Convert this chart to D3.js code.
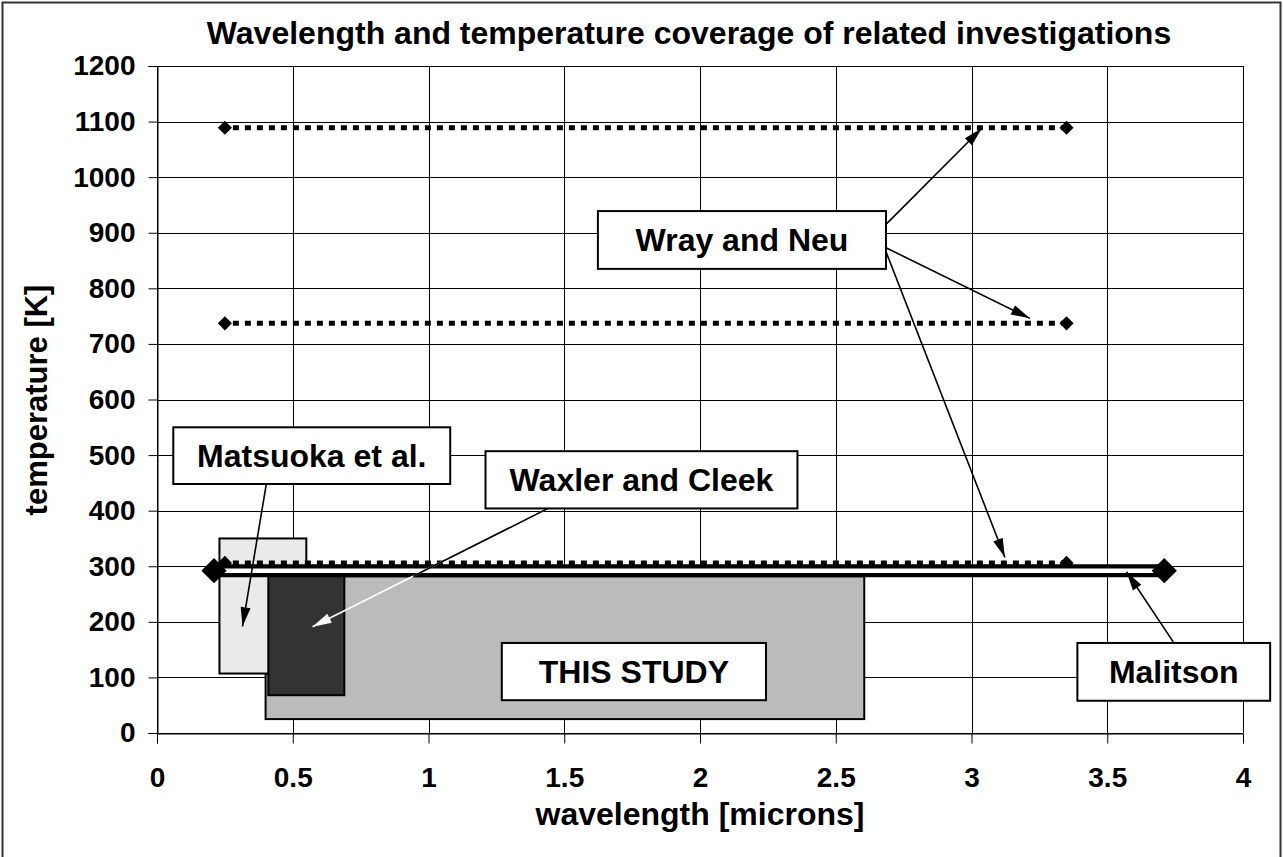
<!DOCTYPE html>
<html>
<head>
<meta charset="utf-8">
<script src="https://cdn.jsdelivr.net/npm/d3@7"></script>
<style>
  body { margin: 0; background: #fff; }
  svg text { font-family: "Liberation Sans", Arial, sans-serif; font-weight: bold; fill: #000; }
</style>
</head>
<body>
<div id="chart"></div>
<script>
// axis ticks
var xTicks = [0, 0.5, 1, 1.5, 2, 2.5, 3, 3.5, 4];
var yTicks = [0, 100, 200, 300, 400, 500, 600, 700, 800, 900, 1000, 1100, 1200];

// Wray and Neu: three temperatures, same wavelength span
var wrayTemps = [1089, 737, 306];
var wrayRange = [0.25, 3.35];

// Malitson: room temperature, wide span
var malitsonTemp = 292;
var malitsonRange = [0.21, 3.71];

// coverage boxes (drawn in this order)
var boxNames = ["THIS STUDY", "Matsuoka et al.", "Waxler and Cleek"];
var boxX0 = [0.40, 0.23, 0.41];
var boxX1 = [2.605, 0.55, 0.69];
var boxT0 = [25, 107, 68];
var boxT1 = [282, 350, 283];
var boxFill = ["#bbbbbb", "#eaeaea", "#333333"];

// callout labels
var labelText = ["Matsuoka et al.", "Waxler and Cleek", "Wray and Neu", "THIS STUDY", "Malitson"];
var labelX0 = [0.06, 1.21, 1.624, 1.27, 3.39];
var labelX1 = [1.08, 2.359, 2.685, 2.243, 4.10];
var labelT0 = [448, 404, 835, 59, 58];
var labelT1 = [550, 507, 939, 162, 162];

// callout arrows
var arrowFromX = [0.404, 2.685, 2.685, 2.685, 3.743];
var arrowFromT = [452, 915, 873, 866, 164];
var arrowToX = [0.315, 3.038, 3.215, 3.123, 3.571];
var arrowToT = [192, 1088, 746, 316, 290];
// the Waxler arrow turns white once it enters the grey box
var waxArrow = {x0: 1.448, t0: 406, x1: 0.573, t1: 191};

var width = 1283, height = 857;

var svg = d3.select("#chart")
    .append("svg")
    .attr("width", width)
    .attr("height", height);

var x = d3.scaleLinear().domain([0, 4]).range([157, 1243]);
var y = d3.scaleLinear().domain([0, 1200]).range([733, 66]);

// arrow heads
var defs = svg.append("defs");
["black", "white"].forEach(function(c) {
    defs.append("marker")
        .attr("id", "head-" + c)
        .attr("markerUnits", "userSpaceOnUse")
        .attr("viewBox", "-20 -6 22 12")
        .attr("refX", 0).attr("refY", 0)
        .attr("markerWidth", 22).attr("markerHeight", 12)
        .attr("orient", "auto")
        .append("path")
        .attr("d", "M0,0 L-19,-5 L-19,5 Z")
        .attr("fill", c);
});

// outer frame
svg.append("rect")
    .attr("x", 2.5).attr("y", 2.5)
    .attr("width", 1278).attr("height", 900)
    .attr("fill", "none")
    .attr("stroke", "#333")
    .attr("stroke-width", 2);

// title
svg.append("text")
    .attr("x", 689).attr("y", 44)
    .attr("text-anchor", "middle")
    .style("font-size", "32px")
    .text("Wavelength and temperature coverage of related investigations");

// grid
var grid = svg.append("g");
grid.selectAll(".vg").data(xTicks).enter().append("line")
    .attr("x1", function(d) { return Math.round(x(d)) + 0.5; })
    .attr("x2", function(d) { return Math.round(x(d)) + 0.5; })
    .attr("y1", y(1200)).attr("y2", y(0))
    .attr("stroke", "#000").attr("stroke-width", 1);
grid.selectAll(".hg").data(yTicks).enter().append("line")
    .attr("x1", x(0)).attr("x2", x(4))
    .attr("y1", function(d) { return Math.round(y(d)) + 0.5; })
    .attr("y2", function(d) { return Math.round(y(d)) + 0.5; })
    .attr("stroke", "#000").attr("stroke-width", 1);

// axes
var xAxis = svg.append("g")
    .attr("transform", "translate(0," + (Math.round(y(0)) + 0.5) + ")")
    .call(d3.axisBottom(x).tickValues(xTicks).tickSize(10).tickPadding(24)
        .tickFormat(function(d) { return String(d); }));
var yAxis = svg.append("g")
    .attr("transform", "translate(" + (Math.round(x(0)) + 0.5) + ",0)")
    .call(d3.axisLeft(y).tickValues(yTicks).tickSize(9).tickPadding(13)
        .tickFormat(function(d) { return String(d); }));
[xAxis, yAxis].forEach(function(a) {
    a.select(".domain").attr("stroke", "#000");
    a.selectAll(".tick line").attr("stroke", "#000");
    a.selectAll(".tick text")
        .style("font-size", "28px")
        .style("font-family", "'Liberation Sans', Arial, sans-serif")
        .style("font-weight", "bold");
});

svg.append("text")
    .attr("x", 700).attr("y", 825)
    .attr("text-anchor", "middle")
    .style("font-size", "32px")
    .text("wavelength [microns]");

svg.append("text")
    .attr("transform", "translate(47,400) rotate(-90)")
    .attr("text-anchor", "middle")
    .style("font-size", "31px")
    .text("temperature [K]");

// coverage boxes
svg.append("g").selectAll("rect")
    .data(boxNames).enter().append("rect")
    .attr("x", function(d, i) { return x(boxX0[i]); })
    .attr("y", function(d, i) { return y(boxT1[i]); })
    .attr("width", function(d, i) { return x(boxX1[i]) - x(boxX0[i]); })
    .attr("height", function(d, i) { return y(boxT0[i]) - y(boxT1[i]); })
    .attr("fill", function(d, i) { return boxFill[i]; })
    .attr("stroke", "#000")
    .attr("stroke-width", 2);

// Wray and Neu dotted lines
var diamond = function(size) { return d3.symbol().type(d3.symbolSquare).size(size)(); };
var wray = svg.append("g");
wray.selectAll("line").data(wrayTemps).enter().append("line")
    .attr("x1", x(wrayRange[0])).attr("x2", x(wrayRange[1]))
    .attr("y1", function(d) { return y(d); })
    .attr("y2", function(d) { return y(d); })
    .attr("stroke", "#000")
    .attr("stroke-width", 5)
    .attr("stroke-dasharray", "6,6")
    .attr("stroke-dashoffset", -8);
wrayTemps.forEach(function(t) {
    wrayRange.forEach(function(w) {
        wray.append("path")
            .attr("d", diamond(100))
            .attr("transform", "translate(" + x(w) + "," + y(t) + ") rotate(45)")
            .attr("fill", "#000");
    });
});

// Malitson double line
var mal = svg.append("g");
mal.append("line")
    .attr("x1", x(malitsonRange[0])).attr("x2", x(malitsonRange[1]))
    .attr("y1", y(malitsonTemp)).attr("y2", y(malitsonTemp))
    .attr("stroke", "#000").attr("stroke-width", 13);
mal.append("line")
    .attr("x1", x(malitsonRange[0]) + 6).attr("x2", x(malitsonRange[1]) - 6)
    .attr("y1", y(malitsonTemp)).attr("y2", y(malitsonTemp))
    .attr("stroke", "#fff").attr("stroke-width", 4.5);
malitsonRange.forEach(function(w) {
    mal.append("path")
        .attr("d", diamond(320))
        .attr("transform", "translate(" + x(w) + "," + y(malitsonTemp) + ") rotate(45)")
        .attr("fill", "#000");
});

// arrows
var arrows = svg.append("g");
arrowFromX.forEach(function(d, i) {
    arrows.append("line")
        .attr("x1", x(arrowFromX[i])).attr("y1", y(arrowFromT[i]))
        .attr("x2", x(arrowToX[i])).attr("y2", y(arrowToT[i]))
        .attr("stroke", "#000").attr("stroke-width", 1.6)
        .attr("marker-end", "url(#head-black)");
});
arrows.append("line")
    .attr("x1", x(waxArrow.x0)).attr("y1", y(waxArrow.t0))
    .attr("x2", x(waxArrow.x1)).attr("y2", y(waxArrow.t1))
    .attr("stroke", "#fff").attr("stroke-width", 1.6)
    .attr("marker-end", "url(#head-white)");
var split = (waxArrow.t0 - boxT1[0]) / (waxArrow.t0 - waxArrow.t1);
arrows.append("line")
    .attr("x1", x(waxArrow.x0)).attr("y1", y(waxArrow.t0))
    .attr("x2", x(waxArrow.x0 + (waxArrow.x1 - waxArrow.x0) * split))
    .attr("y2", y(boxT1[0]))
    .attr("stroke", "#000").attr("stroke-width", 1.6);

// callout labels
var labels = svg.append("g").selectAll("g")
    .data(labelText).enter().append("g");
labels.append("rect")
    .attr("x", function(d, i) { return x(labelX0[i]); })
    .attr("y", function(d, i) { return y(labelT1[i]); })
    .attr("width", function(d, i) { return x(labelX1[i]) - x(labelX0[i]); })
    .attr("height", function(d, i) { return y(labelT0[i]) - y(labelT1[i]); })
    .attr("fill", "#fff")
    .attr("stroke", "#000")
    .attr("stroke-width", 2);
labels.append("text")
    .attr("x", function(d, i) { return (x(labelX0[i]) + x(labelX1[i])) / 2; })
    .attr("y", function(d, i) { return (y(labelT0[i]) + y(labelT1[i])) / 2 + 11; })
    .attr("text-anchor", "middle")
    .style("font-size", "32px")
    .text(function(d) { return d; });
</script>
</body>
</html>
